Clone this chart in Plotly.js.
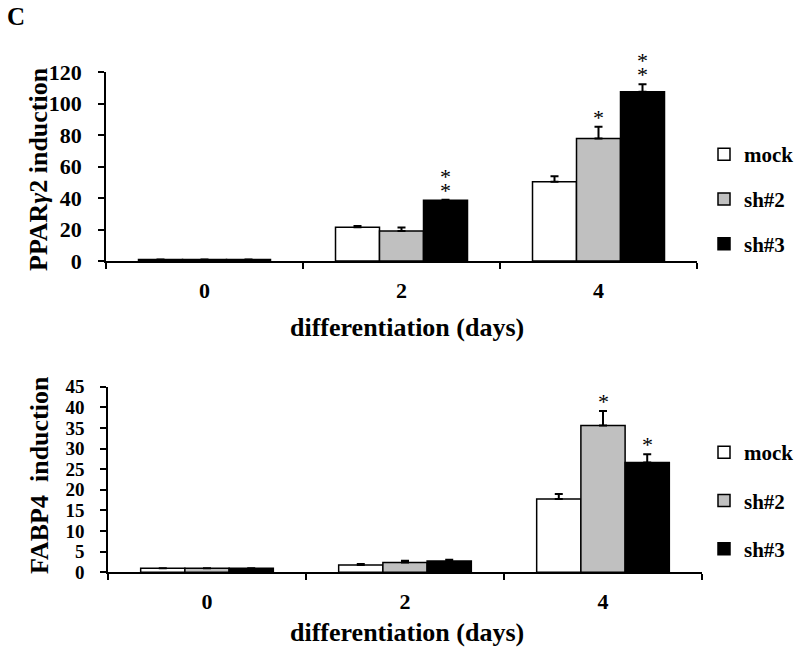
<!DOCTYPE html>
<html>
<head>
<meta charset="utf-8">
<script src="https://cdn.plot.ly/plotly-3.0.1.min.js"></script>
<style>html,body{margin:0;padding:0;background:#fff;}#chart{width:800px;height:654px;}</style>
</head>
<body>
<div id="chart"></div>
<script>
// ---- data ----
const days = ['0', '2', '4'];
const seriesNames = ['mock', 'sh#2', 'sh#3'];

// PPARγ2 induction
const pparMock = [1, 21.5, 50.3];
const pparMockErr = [0, 0.7, 3.5];
const pparSh2 = [1, 19, 77.7];
const pparSh2Err = [0, 2.3, 7.6];
const pparSh3 = [1, 38.5, 107.5];
const pparSh3Err = [0, 0.4, 4.7];
const pparStars = [[0, 0, 0], [0, 0, 1], [0, 2, 2]];

// FABP4 induction
const fabpMock = [1, 1.75, 17.8];
const fabpMockErr = [0, 0.25, 1.2];
const fabpSh2 = [1, 2.4, 35.6];
const fabpSh2Err = [0, 0.4, 3.5];
const fabpSh3 = [1, 2.75, 26.6];
const fabpSh3Err = [0, 0.3, 2.0];
const fabpStars = [[0, 0, 0], [0, 0, 1], [0, 0, 1]];

const pparTicks = [0, 20, 40, 60, 80, 100, 120];
const fabpTicks = [0, 5, 10, 15, 20, 25, 30, 35, 40, 45];

const xTitle = 'differentiation (days)';
const pparTitle = 'PPAR<i>γ</i>2 induction';
const fabpTitle = 'FABP4  induction';

// ---- style ----
const FONT = 'Liberation Serif, Times New Roman, serif';
const fills = ['#ffffff', '#c0c0c0', '#000000'];
const BARGAP = 0.33;
const W = 800, H = 654;
const topX = [106 / W, 697 / W], topY = [1 - 261 / H, 1 - 72 / H];
const botX = [108 / W, 702 / W], botY = [1 - 572.3 / H, 1 - 386.7 / H];

function mkTrace(name, y, err, i, xa, ya, legend, grp) {
  return {
    type: 'bar', name: name, x: days, y: y,
    xaxis: xa, yaxis: ya, legend: legend, legendgroup: grp,
    marker: {color: fills[i], line: {color: '#000', width: 1.5}},
    error_y: {type: 'data', symmetric: false, array: err, arrayminus: err.map(() => 0),
              color: '#000', thickness: 2, width: 4},
    hoverinfo: 'y'
  };
}

const data = [
  mkTrace(seriesNames[0], pparMock, pparMockErr, 0, 'x', 'y', 'legend', 'a0'),
  mkTrace(seriesNames[1], pparSh2, pparSh2Err, 1, 'x', 'y', 'legend', 'a1'),
  mkTrace(seriesNames[2], pparSh3, pparSh3Err, 2, 'x', 'y', 'legend', 'a2'),
  mkTrace(seriesNames[0], fabpMock, fabpMockErr, 0, 'x2', 'y2', 'legend2', 'b0'),
  mkTrace(seriesNames[1], fabpSh2, fabpSh2Err, 1, 'x2', 'y2', 'legend2', 'b1'),
  mkTrace(seriesNames[2], fabpSh3, fabpSh3Err, 2, 'x2', 'y2', 'legend2', 'b2')
];

// significance stars
const annotations = [];
const barW = (1 - BARGAP) / 3;
function addStars(vals, errs, stars, xref, yref, i, base) {
  vals.forEach((v, c) => {
    const n = stars[i][c];
    for (let k = 0; k < n; k++) {
      annotations.push({
        xref: xref, yref: yref, x: c + (i - 1) * barW, y: v + errs[c],
        text: '*', showarrow: false, xanchor: 'center', yanchor: 'bottom',
        yshift: base + k * 14,
        font: {family: FONT, size: 22, color: '#000'}
      });
    }
  });
}
const pparV = [pparMock, pparSh2, pparSh3], pparE = [pparMockErr, pparSh2Err, pparSh3Err];
const fabpV = [fabpMock, fabpSh2, fabpSh3], fabpE = [fabpMockErr, fabpSh2Err, fabpSh3Err];
for (let i = 0; i < 3; i++) {
  addStars(pparV[i], pparE[i], pparStars, 'x', 'y', i, -5);
  addStars(fabpV[i], fabpE[i], fabpStars, 'x2', 'y2', i, -5);
}

const titleFont = {family: FONT, size: 26, color: '#000', weight: 'bold'};
function paperText(text, x, y, angle, font) {
  annotations.push({xref: 'paper', yref: 'paper', x: x / W, y: 1 - y / H,
    xanchor: 'center', yanchor: 'middle', text: text, textangle: angle,
    showarrow: false, font: font});
}
paperText('C', 16, 17, 0, {family: FONT, size: 25, color: '#000', weight: 'bold'});
paperText(xTitle, 407, 328, 0, titleFont);
paperText(xTitle, 407, 632, 0, titleFont);
paperText(pparTitle, 39, 169, -90, titleFont);
paperText(fabpTitle, 39, 475, -90, titleFont);

const tickFont = {family: FONT, size: 22, color: '#000', weight: 'bold'};

function xAxis(domain, anchor) {
  return {
    domain: domain, anchor: anchor, type: 'category', range: [-0.5, 2.5],
    showline: true, linecolor: '#000', linewidth: 1.5,
    ticks: 'outside', tickson: 'boundaries', ticklen: 6, tickwidth: 1.5, tickcolor: '#000',
    tickfont: tickFont, ticklabelstandoff: 9, showgrid: false, zeroline: false, fixedrange: true
  };
}
function yAxis(domain, anchor, range, ticks, size) {
  return {
    domain: domain, anchor: anchor, range: range, tickvals: ticks,
    showline: true, linecolor: '#000', linewidth: 1.5,
    ticks: 'outside', ticklen: 6, tickwidth: 1.5, tickcolor: '#000',
    tickfont: Object.assign({}, tickFont, {size: size}), ticklabelstandoff: 12,
    showgrid: false, zeroline: false, fixedrange: true
  };
}

const legendBase = {
  xanchor: 'left', yanchor: 'top', traceorder: 'grouped',
  font: {family: FONT, size: 21, color: '#000', weight: 'bold'}, bgcolor: 'rgba(0,0,0,0)',
  itemclick: false, itemdoubleclick: false
};

const layout = {
  width: W, height: H,
  margin: {l: 0, r: 0, t: 0, b: 0},
  paper_bgcolor: '#fff', plot_bgcolor: '#fff',
  barmode: 'group', bargap: BARGAP, bargroupgap: 0,
  showlegend: true,
  xaxis: xAxis(topX, 'y'),
  yaxis: yAxis(topY, 'x', [0, 120], pparTicks, 22),
  xaxis2: xAxis(botX, 'y2'),
  yaxis2: yAxis(botY, 'x2', [0, 45], fabpTicks, 19),
  legend: Object.assign({}, legendBase, {x: 704 / W, y: 1 - 134 / H, tracegroupgap: 14.5}),
  legend2: Object.assign({}, legendBase, {x: 704 / W, y: 1 - 432 / H, tracegroupgap: 18}),
  annotations: annotations
};

Plotly.newPlot('chart', data, layout, {displayModeBar: false});
</script>
</body>
</html>
